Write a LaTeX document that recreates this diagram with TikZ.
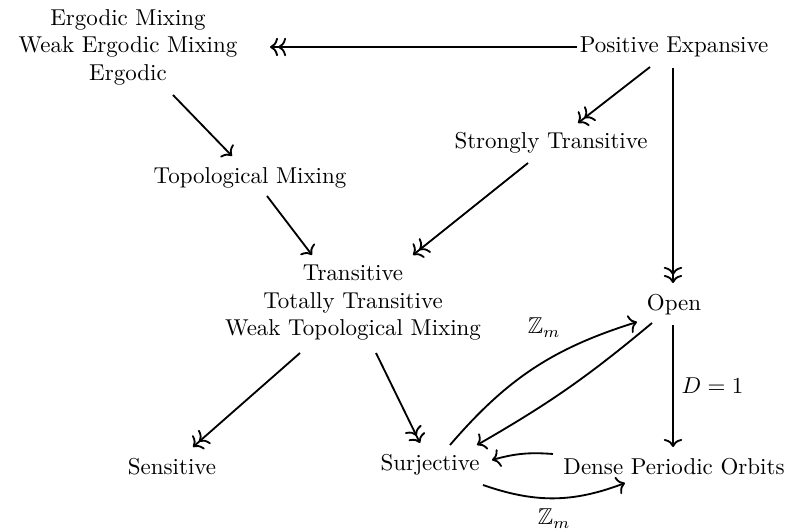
\documentclass[tikz,border=0pt]{standalone}
\usepackage{amssymb}
\usetikzlibrary{arrows.meta,calc}
\begin{document}
\begin{tikzpicture}[x=0.0153cm,y=-0.0153cm,
  >={Computer Modern Rightarrow[length=3.5pt,width=8pt]},
  prop/.style={align=center,inner sep=2pt},
  imp/.style={->,thick},
  sobre/.style={->>,thick}]
\useasboundingbox (0,0) rectangle (787,531);

% Propiedades
\node[prop] (erg) at (128,47) {Ergodic Mixing\\Weak Ergodic Mixing\\Ergodic};
\node[prop] (pexp) at (674,47) {Positive Expansive};
\node[prop] (strtr) at (551,143) {Strongly Transitive};
\node[prop] (topmix) at (250,178) {Topological Mixing};
\node[prop] (trans) at (353,303) {Transitive\\Totally Transitive\\Weak Topological Mixing};
\node[prop] (open) at (674,305) {Open};
\node[prop] (sens) at (172,467) {Sensitive};
\node[prop] (surj) at (430,465) {Surjective};
\node[prop] (dpo) at (674,467) {Dense Periodic Orbits};

% Flechas dobles
\draw[sobre] ($(pexp)+(-97,0)$) -- ($(erg)+(142,0)$);
\draw[sobre] ($(pexp)+(-24,20)$) -- ($(strtr)+(27,-20)$);
\draw[sobre] ($(pexp)+(-1,21)$) -- ($(open)+(-1,-22)$);
\draw[sobre] ($(strtr)+(-23,20)$) -- ($(trans)+(60,-48)$);
\draw[sobre] ($(trans)+(-53,50)$) -- ($(sens)+(21,-20)$);
\draw[sobre] ($(trans)+(23,50)$) -- ($(surj)+(-10,-22)$);

% Flechas simples
\draw[imp] ($(erg)+(45,48)$) -- ($(topmix)+(-18,-22)$);
\draw[imp] ($(topmix)+(17,18)$) -- ($(trans)+(-41,-48)$);
\draw[imp] ($(open)+(-1,20)$) -- node[right] {$D=1$} ($(dpo)+(-1,-20)$);

% Curvas entre Surjective, Open y Dense Periodic Orbits
\draw[imp] ($(surj)+(20,-20)$) to[bend left=16] node[pos=0.56,above=7pt] {$\mathbb{Z}_m$} ($(open)+(-37,17)$);
\draw[imp] ($(open)+(-22,18)$) to[bend left=5] ($(surj)+(47,-20)$);
\draw[imp] ($(dpo)+(-121,-13)$) to[bend right=10] ($(surj)+(62,-5)$);
\draw[imp] ($(surj)+(53,20)$) to[bend right=20] node[below=1pt] {$\mathbb{Z}_m$} ($(dpo)+(-49,16)$);

\end{tikzpicture}
\end{document}
